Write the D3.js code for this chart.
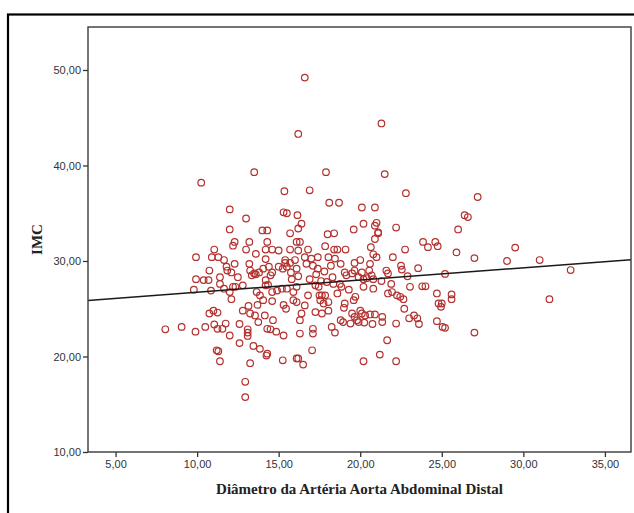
<!DOCTYPE html>
<html>
<head>
<meta charset="utf-8">
<script src="https://cdn.jsdelivr.net/npm/d3@7"></script>
<style>
  html, body { margin: 0; padding: 0; background: #fff; }
  svg { display: block; }
</style>
</head>
<body>
<svg id="chart" width="634" height="513"></svg>
<script>
// Diâmetro da Artéria Aorta Abdominal Distal (x) vs IMC (y)
const diametro = [
  16.6,16.2,21.3,21.5,17.9,13.5,10.25,16.9,15.35,22.8,27.2,18.1,18.7,20.1,20.9,12.0,15.3,15.5,16.15,13.0,
  26.4,26.6,16.4,20.2,21.0,20.9,22.2,19.6,12.0,14.0,14.3,26.0,18.0,18.4,21.1,15.7,16.2,20.9,
  12.3,12.2,13.2,14.3,16.1,11.05,13.0,14.2,14.6,15.0,15.7,9.93,10.9,11.3,13.6,14.2,15.4,16.0,11.65,12.3,13.2,
  10.75,11.8,11.85,12.1,12.5,13.25,13.5,14.05,14.4,15.0,15.4,15.7,11.4,9.93,10.4,10.7,9.8,10.85,11.4,11.65,
  12.2,12.35,12.0,12.8,13.35,13.6,13.8,14.2,14.5,14.6,15.25,15.5,15.75,16.1,14.2,14.35,13.65,13.85,14.6,14.9,
  15.2,15.5,15.9,16.1,12.1,13.15,13.7,14.05,14.6,15.3,15.45,15.9,16.1,12.8,13.25,13.55,11.0,10.75,11.25,
  13.75,14.15,14.65,12.6,11.75,11.05,11.25,10.5,9.9,9.05,8.05,12.0,11.55,13.1,13.1,13.1,14.3,14.5,14.85,15.3,
  12.6,13.45,13.85,14.25,14.3,11.2,11.3,11.4,13.25,15.25,16.1,12.95,12.95,
  21.1,16.3,16.8,16.2,17.85,18.4,18.6,19.1,20.65,20.8,22.0,22.75,23.85,24.15,24.6,24.75,16.6,17.0,17.4,18.05,
  18.45,19.65,20.0,20.6,21.0,16.7,17.1,17.4,18.2,18.8,19.05,19.15,19.5,19.65,20.1,20.55,20.7,21.6,21.7,22.5,
  22.55,23.55,19.9,20.2,20.4,20.8,17.25,17.45,17.95,18.35,18.85,18.75,20.2,20.8,23.05,23.8,24.0,21.7,21.95,22.25,
  22.45,22.65,22.7,24.7,24.8,24.95,25.05,24.7,16.8,16.6,16.4,16.3,17.5,17.65,17.85,17.55,17.75,18.05,17.25,17.65,
  18.05,19.05,19.0,19.6,19.7,20.0,20.1,19.5,19.65,19.8,19.9,18.8,18.95,19.4,20.3,20.6,20.9,21.35,21.35,20.75,
  20.25,22.2,23.0,23.3,23.5,23.6,18.25,18.45,17.1,17.1,16.3,21.65,17.05,21.2,16.2,20.2,16.5,22.2,
  25.9,27.0,29.5,29.0,31.0,32.9,25.2,25.6,25.6,25.0,25.2,27.0,31.6,
  17.3,17.8,18.3,16.9,17.6,18.6,19.3,16.2,15.8,21.3,21.9,22.9
];
const imc = [
  49.2,43.3,44.4,39.1,39.3,39.3,38.2,37.4,37.3,37.1,36.7,36.1,36.1,35.6,35.6,35.4,35.1,35.0,34.8,34.45,
  34.8,34.6,33.9,33.9,34.0,33.7,33.5,33.3,33.3,33.2,33.2,33.3,32.8,32.9,32.9,32.9,33.4,32.3,
  32.0,31.6,32.0,32.0,32.0,31.2,31.2,31.2,31.2,31.1,31.2,30.4,30.4,30.4,30.75,30.2,30.1,30.1,30.1,29.7,29.7,
  29.0,29.4,29.0,28.8,28.3,29.0,28.7,29.2,29.4,29.4,29.8,29.8,28.3,28.1,28.0,28.0,27.0,26.9,27.6,27.1,
  27.3,27.3,26.75,27.45,28.5,28.6,28.8,28.0,28.5,28.8,29.2,29.4,28.8,29.2,27.45,27.5,26.75,26.4,26.75,26.9,
  27.1,27.1,26.75,27.3,26.0,25.3,25.4,25.9,25.8,25.4,25.0,25.9,25.7,24.8,24.5,24.3,24.8,24.5,24.6,
  23.6,24.3,23.8,23.4,23.45,23.35,22.9,23.1,22.6,23.1,22.85,22.2,22.9,22.85,22.5,22.15,22.9,22.85,22.6,22.2,
  21.4,21.1,20.8,20.1,20.3,20.65,20.55,19.5,19.3,19.6,19.8,17.35,15.75,
  33.0,32.0,31.2,31.1,31.55,31.2,31.2,31.2,31.45,30.7,30.4,31.2,32.0,31.45,32.0,31.55,30.4,30.25,30.4,30.4,
  30.25,29.8,30.1,29.7,30.4,29.7,29.5,29.2,29.5,29.7,28.8,28.5,28.7,29.0,28.8,29.0,28.5,29.0,28.7,29.5,
  29.1,29.25,28.3,28.1,28.2,28.1,27.45,27.3,27.8,27.6,27.3,27.6,27.3,27.1,27.3,27.35,27.35,26.6,26.75,26.4,
  26.25,26.0,25.0,26.6,25.55,25.2,23.1,23.7,26.4,25.35,24.5,23.8,26.4,26.4,26.4,25.9,25.55,25.7,24.65,24.5,
  24.8,25.55,25.1,25.9,26.25,24.8,24.5,24.5,24.15,23.8,23.6,23.8,23.6,23.45,24.3,24.4,24.4,24.15,23.6,23.4,
  23.55,23.45,24.0,24.3,24.0,23.4,23.1,22.5,22.9,22.4,22.4,21.7,20.65,20.2,19.8,19.5,19.15,19.5,
  30.9,30.3,31.4,30.0,30.1,29.05,28.65,26.5,26.0,25.55,23.0,22.5,26.0,
  28.6,28.9,28.3,28.1,27.9,26.6,27.0,28.4,28.1,27.9,27.6,28.4
];

// Tick values and the fitted linear trend (IMC = a + b * diâmetro)
const xTicks = [5, 10, 15, 20, 25, 30, 35];
const yTicks = [10, 20, 30, 40, 50];
const fitIntercept = 25.44;
const fitSlope = 0.1283;

const xLabel = "Diâmetro da Artéria Aorta Abdominal Distal";
const yLabel = "IMC";

const svg = d3.select("#chart");
const plot = { left: 88, right: 631, top: 27, bottom: 452 };

const x = d3.scaleLinear().domain([3.31, 36.6]).range([plot.left, plot.right]);
const y = d3.scaleLinear().domain([10, 54.5]).range([plot.bottom, plot.top]);
const fmt = v => d3.format(".2f")(v).replace(".", ",");

// outer frame
svg.append("rect")
  .attr("x", 8).attr("y", 14.5)
  .attr("width", 700).attr("height", 600)
  .attr("fill", "none").attr("stroke", "#000").attr("stroke-width", 2.2);

// clipping for the plot interior
svg.append("clipPath").attr("id", "plotClip")
  .append("rect")
  .attr("x", plot.left).attr("y", plot.top)
  .attr("width", plot.right - plot.left).attr("height", plot.bottom - plot.top);

// axes
const xAxis = svg.append("g")
  .attr("transform", `translate(0,${plot.bottom})`)
  .call(d3.axisBottom(x).tickValues(xTicks).tickFormat(fmt).tickSizeInner(5).tickSizeOuter(0).tickPadding(3));
const yAxis = svg.append("g")
  .attr("transform", `translate(${plot.left},0)`)
  .call(d3.axisLeft(y).tickValues(yTicks).tickFormat(fmt).tickSizeInner(5).tickSizeOuter(0).tickPadding(2));

[xAxis, yAxis].forEach(g => {
  g.select(".domain").remove();
  g.selectAll(".tick line").attr("stroke", "#333").attr("stroke-width", 1.3);
  g.selectAll(".tick text")
    .attr("fill", "#333")
    .style("font-family", "'Liberation Sans', Arial, sans-serif")
    .style("font-size", "11px");
});

// points
svg.append("g")
  .attr("clip-path", "url(#plotClip)")
  .selectAll("circle")
  .data(d3.zip(diametro, imc))
  .join("circle")
  .attr("cx", d => x(d[0]))
  .attr("cy", d => y(d[1]))
  .attr("r", 3.3)
  .attr("fill", "none")
  .attr("stroke", "#b3312f")
  .attr("stroke-width", 1.2);

// linear fit line
const xd = x.domain();
svg.append("line")
  .attr("clip-path", "url(#plotClip)")
  .attr("x1", x(xd[0])).attr("y1", y(fitIntercept + fitSlope * xd[0]))
  .attr("x2", x(xd[1])).attr("y2", y(fitIntercept + fitSlope * xd[1]))
  .attr("stroke", "#1a1a1a").attr("stroke-width", 1.5);

// plot border
svg.append("rect")
  .attr("x", plot.left).attr("y", plot.top)
  .attr("width", plot.right - plot.left).attr("height", plot.bottom - plot.top)
  .attr("fill", "none").attr("stroke", "#3a3a3a").attr("stroke-width", 1.4);

// axis titles
svg.append("text")
  .attr("x", (plot.left + plot.right) / 2).attr("y", 494)
  .attr("text-anchor", "middle")
  .style("font-family", "'Liberation Serif', 'Times New Roman', serif")
  .style("font-weight", "bold").style("font-size", "15px")
  .attr("fill", "#222")
  .text(xLabel);

svg.append("text")
  .attr("transform", `translate(42,${(plot.top + plot.bottom) / 2}) rotate(-90)`)
  .attr("text-anchor", "middle")
  .style("font-family", "'Liberation Serif', 'Times New Roman', serif")
  .style("font-weight", "bold").style("font-size", "15px")
  .attr("fill", "#222")
  .text(yLabel);
</script>
</body>
</html>
